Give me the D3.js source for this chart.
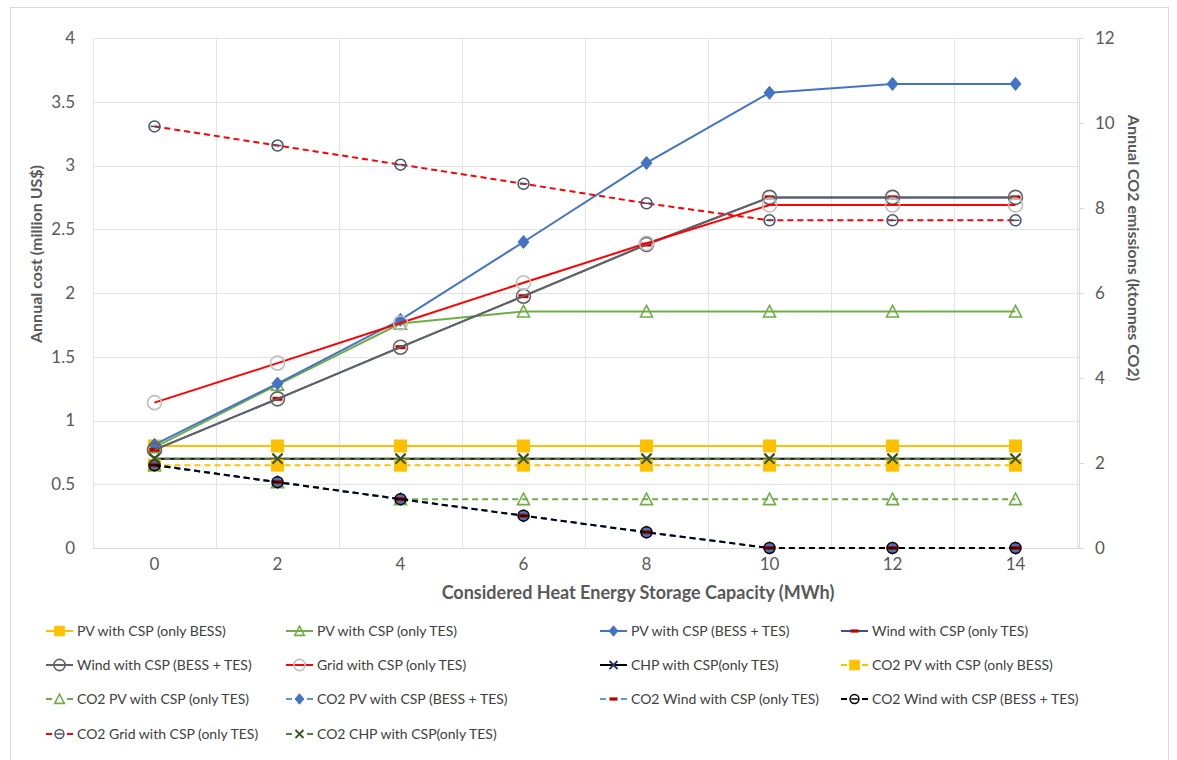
<!DOCTYPE html>
<html><head><meta charset="utf-8">
<script src="https://cdn.jsdelivr.net/npm/d3@7"></script>
<style>
html,body{margin:0;padding:0;background:#fff;}
svg{display:block;font-family:Lato, "Open Sans", sans-serif;}
</style></head>
<body>
<svg id="chart" width="1177" height="760"></svg>
<script>
// ---- data ----
const categories = [0, 2, 4, 6, 8, 10, 12, 14];
const costTicks = [0, 0.5, 1, 1.5, 2, 2.5, 3, 3.5, 4];
const co2Ticks = [0, 2, 4, 6, 8, 10, 12];

const pvOnlyBess   = [0.80, 0.80, 0.80, 0.80, 0.80, 0.80, 0.80, 0.80];
const pvOnlyTes    = [0.79, 1.28, 1.76, 1.855, 1.855, 1.855, 1.855, 1.855];
const pvBessTes    = [0.81, 1.29, 1.79, 2.40, 3.02, 3.57, 3.64, 3.64];
const windOnlyTes  = [0.77, 1.17, 1.575, 1.975, 2.38, 2.75, 2.75, 2.75];
const windBessTes  = [0.77, 1.17, 1.575, 1.975, 2.38, 2.75, 2.75, 2.75];
const gridOnlyTes  = [1.14, 1.45, 1.765, 2.08, 2.39, 2.69, 2.69, 2.69];
const chpOnlyTes   = [0.70, 0.70, 0.70, 0.70, 0.70, 0.70, 0.70, 0.70];

const co2PvOnlyBess  = [1.95, 1.95, 1.95, 1.95, 1.95, 1.95, 1.95, 1.95];
const co2PvOnlyTes   = [1.95, 1.55, 1.15, 1.15, 1.15, 1.15, 1.15, 1.15];
const co2PvBessTes   = [1.95, 1.55, 1.15, 0.76, 0.37, 0, 0, 0];
const co2WindOnlyTes = [1.95, 1.55, 1.15, 0.76, 0.37, 0, 0, 0];
const co2WindBessTes = [1.95, 1.55, 1.15, 0.76, 0.37, 0, 0, 0];
const co2GridOnlyTes = [9.92, 9.47, 9.02, 8.57, 8.11, 7.71, 7.71, 7.71];
const co2ChpOnlyTes  = [2.10, 2.10, 2.10, 2.10, 2.10, 2.10, 2.10, 2.10];

const series = [
  {name:"PV with CSP (only BESS)", values:pvOnlyBess, axis:"L", color:"#FFC000", dash:null, marker:"square", mFill:"#FFC000", mStroke:"#FFC000"},
  {name:"PV with CSP (only TES)", values:pvOnlyTes, axis:"L", color:"#70AD47", dash:null, marker:"triangle", mFill:"#fff", mStroke:"#70AD47"},
  {name:"PV with CSP (BESS + TES)", values:pvBessTes, axis:"L", color:"#4472C4", dash:null, marker:"diamond", mFill:"#4472C4", mStroke:"#4472C4"},
  {name:"Wind with CSP (only TES)", values:windOnlyTes, axis:"L", color:"#2F5597", dash:null, marker:"dash", mFill:"#C00000", mStroke:"#C00000"},
  {name:"Wind with CSP (BESS + TES)", values:windBessTes, axis:"L", color:"#636363", dash:null, marker:"circle", mFill:"none", mStroke:"#636363"},
  {name:"Grid with CSP (only TES)", values:gridOnlyTes, axis:"L", color:"#FF0000", dash:null, marker:"circle", mFill:"none", mStroke:"#BFBFBF"},
  {name:"CHP with CSP(only TES)", values:chpOnlyTes, axis:"L", color:"#000000", dash:null, marker:"x", mFill:"none", mStroke:"#203864"},
  {name:"CO2 PV with CSP (only BESS)", values:co2PvOnlyBess, axis:"R", color:"#FFC000", dash:"6,4", marker:"square", mFill:"#FFC000", mStroke:"#FFC000"},
  {name:"CO2 PV with CSP (only TES)", values:co2PvOnlyTes, axis:"R", color:"#70AD47", dash:"6,4", marker:"triangle", mFill:"#fff", mStroke:"#70AD47"},
  {name:"CO2 PV with CSP (BESS + TES)", values:co2PvBessTes, axis:"R", color:"#5B9BD5", dash:"6,4", marker:"diamond", mFill:"#4472C4", mStroke:"#4472C4"},
  {name:"CO2 Wind with CSP (only TES)", values:co2WindOnlyTes, axis:"R", color:"#5B9BD5", dash:"6,4", marker:"dash", mFill:"#C00000", mStroke:"#C00000"},
  {name:"CO2 Wind with CSP (BESS + TES)", values:co2WindBessTes, axis:"R", color:"#000000", dash:"6,4", marker:"theta", mFill:"none", mStroke:"#000000"},
  {name:"CO2 Grid with CSP (only TES)", values:co2GridOnlyTes, axis:"R", color:"#FF0000", dash:"6,4", marker:"theta", mFill:"none", mStroke:"#44546A"},
  {name:"CO2 CHP with CSP(only TES)", values:co2ChpOnlyTes, axis:"R", color:"#548235", dash:"6,4", marker:"x", mFill:"none", mStroke:"#375623"}
];

// ---- layout ----
const svg = d3.select("#chart");
const plot = {left:93, right:1077, top:38, bottom:548};

svg.append("rect").attr("x",10.5).attr("y",7.5).attr("width",1158).attr("height",760)
  .attr("fill","#fff").attr("stroke","#D9D9D9");

const x = d3.scaleBand().domain(categories).range([plot.left, plot.right]);
const cx = c => x(c) + x.bandwidth()/2;
const yL = d3.scaleLinear().domain([0,4]).range([plot.bottom, plot.top]);
const yR = d3.scaleLinear().domain([0,12]).range([plot.bottom, plot.top]);

// gridlines
const grid = svg.append("g");
grid.selectAll("line.h").data(costTicks.filter(d=>d>0)).join("line")
  .attr("x1",plot.left).attr("x2",plot.right+2)
  .attr("y1",d=>Math.round(yL(d))+0.5).attr("y2",d=>Math.round(yL(d))+0.5)
  .attr("stroke","#E3E3E3").attr("stroke-width",1);
const vb = categories.map(c=>x(c)).concat([x(categories[categories.length-1])+x.bandwidth()]);
grid.selectAll("line.v").data(vb).join("line")
  .attr("x1",d=>Math.round(d)+0.5).attr("x2",d=>Math.round(d)+0.5)
  .attr("y1",plot.top).attr("y2",plot.bottom)
  .attr("stroke","#E3E3E3").attr("stroke-width",1);
// x axis line
svg.append("line").attr("x1",plot.left).attr("x2",plot.right+2)
  .attr("y1",plot.bottom+0.5).attr("y2",plot.bottom+0.5).attr("stroke","#D9D9D9");

// left axis
const gL = svg.append("g").attr("transform",`translate(${plot.left},0)`)
  .call(d3.axisLeft(yL).tickValues(costTicks).tickSize(0).tickPadding(18).tickFormat(d=>String(d)));
gL.select(".domain").remove();
gL.selectAll("text").attr("font-size",17).attr("fill","#595959").attr("font-family","Lato, sans-serif");

// right axis
const gR = svg.append("g").attr("transform",`translate(${plot.right+2},0)`)
  .call(d3.axisRight(yR).tickValues(co2Ticks).tickSize(5).tickPadding(11).tickFormat(d=>String(d)));
gR.select(".domain").attr("stroke","#D9D9D9");
gR.selectAll(".tick line").attr("stroke","#D9D9D9");
gR.selectAll("text").attr("font-size",17).attr("fill","#595959").attr("font-family","Lato, sans-serif");

// x axis labels
const gX = svg.append("g").attr("transform",`translate(0,${plot.bottom})`)
  .call(d3.axisBottom(x).tickSize(0).tickPadding(10));
gX.select(".domain").remove();
gX.selectAll("text").attr("font-size",17).attr("fill","#595959").attr("font-family","Lato, sans-serif");

// titles
svg.append("text").attr("x",638).attr("y",599).attr("text-anchor","middle")
  .attr("font-size",18).attr("font-weight","bold").attr("fill","#595959")
  .text("Considered Heat Energy Storage Capacity (MWh)");
svg.append("text").attr("transform","translate(42,254) rotate(-90)").attr("text-anchor","middle")
  .attr("font-size",16).attr("font-weight","bold").attr("fill","#595959")
  .text("Annual cost (million US$)");
svg.append("text").attr("transform","translate(1128,248) rotate(90)").attr("text-anchor","middle")
  .attr("font-size",16).attr("font-weight","bold").attr("fill","#595959")
  .text("Annual CO2 emissions (ktonnes CO2)");

// marker drawer
function drawMarker(g, type, fill, stroke, scale){
  const s = scale || 1;
  if(type==="square"){
    g.append("rect").attr("x",-6*s).attr("y",-6*s).attr("width",12*s).attr("height",12*s)
      .attr("fill",fill).attr("stroke",stroke);
  } else if(type==="triangle"){
    g.append("path").attr("d",`M0,${-6*s}L${6*s},${5.5*s}L${-6*s},${5.5*s}Z`)
      .attr("fill",fill==="#fff"?"none":fill).attr("stroke",stroke).attr("stroke-width",1.6);
  } else if(type==="diamond"){
    g.append("path").attr("d",`M0,${-6.5*s}L${5.5*s},0L0,${6.5*s}L${-5.5*s},0Z`)
      .attr("fill",fill).attr("stroke",stroke);
  } else if(type==="dash"){
    g.append("rect").attr("x",-5*s).attr("y",-2*s).attr("width",10*s).attr("height",4*s)
      .attr("fill",fill);
  } else if(type==="circle"){
    g.append("circle").attr("r",7*s).attr("fill",fill).attr("stroke",stroke).attr("stroke-width",1.6);
  } else if(type==="theta"){
    g.append("circle").attr("r",5.5*s).attr("fill","none").attr("stroke",stroke).attr("stroke-width",1.5);
    g.append("line").attr("x1",-4*s).attr("x2",4*s).attr("y1",0).attr("y2",0).attr("stroke",stroke).attr("stroke-width",1.5);
  } else if(type==="x"){
    g.append("path").attr("d",`M${-5*s},${-5*s}L${5*s},${5*s}M${-5*s},${5*s}L${5*s},${-5*s}`)
      .attr("stroke",stroke).attr("stroke-width",1.8).attr("fill","none");
  }
}

// series
const gS = svg.append("g");
series.forEach(s=>{
  const yS = s.axis==="L" ? yL : yR;
  const pts = categories.map((c,i)=>({c, v:s.values[i]}));
  const line = d3.line().x(d=>cx(d.c)).y(d=>yS(d.v));
  const g = gS.append("g");
  g.append("path").datum(pts).attr("d",line).attr("fill","none")
    .attr("stroke",s.color).attr("stroke-width",2)
    .attr("stroke-dasharray",s.dash);
  pts.forEach(d=>{
    const m = g.append("g").attr("transform",`translate(${cx(d.c)},${yS(d.v)})`);
    drawMarker(m, s.marker, s.mFill, s.mStroke);
  });
});

// legend
const legCols = [46, 286, 600, 841];
const legRows = [631, 665, 699, 734];
const leg = svg.append("g");
series.forEach((s,i)=>{
  const col = i % 4, row = Math.floor(i/4);
  const g = leg.append("g").attr("transform",`translate(${legCols[col]},${legRows[row]})`);
  if(s.dash){
    g.append("line").attr("x1",0).attr("x2",6).attr("y1",0).attr("y2",0).attr("stroke",s.color).attr("stroke-width",2);
    g.append("line").attr("x1",21).attr("x2",27).attr("y1",0).attr("y2",0).attr("stroke",s.color).attr("stroke-width",2);
  } else {
    g.append("line").attr("x1",0).attr("x2",27).attr("y1",0).attr("y2",0).attr("stroke",s.color).attr("stroke-width",2);
  }
  const m = g.append("g").attr("transform","translate(13.5,0)");
  drawMarker(m, s.marker, s.mFill, s.mStroke, 0.8);
  g.append("text").attr("x",31).attr("y",5).attr("font-size",14).attr("fill","#404040").text(s.name);
});
</script>
</body></html>
